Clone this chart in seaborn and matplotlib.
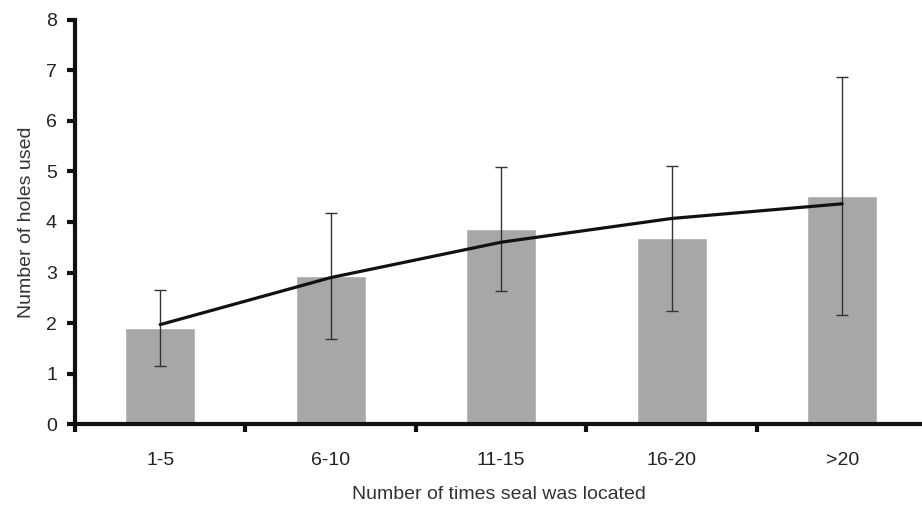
import matplotlib
matplotlib.use("Agg")
import matplotlib.pyplot as plt
import numpy as np
import pandas as pd
import seaborn as sns

# values
groups = ["1-5", "6-10", "11-15", "16-20", ">20"]
mean_holes = [1.91, 2.93, 3.87, 3.68, 4.52]
err_low = [1.16, 1.68, 2.63, 2.24, 2.16]
err_high = [2.65, 4.18, 5.09, 5.11, 6.86]
trend = [1.97, 2.90, 3.60, 4.07, 4.36]

df = pd.DataFrame({"group": groups, "holes": mean_holes})

sns.set_style("white")
plt.rcParams["font.family"] = ["Liberation Sans", "DejaVu Sans"]

fig = plt.figure(figsize=(9.22, 5.08), dpi=100)
ax = fig.add_axes([0.0813, 0.165, 0.919, 0.796])

sns.barplot(data=df, x="group", y="holes", color="#a5a7a9", saturation=1,
            width=0.41, errorbar=None, ax=ax)

x = np.arange(len(groups))
mean = np.array(mean_holes)
yerr = [mean - np.array(err_low), np.array(err_high) - mean]
ax.errorbar(x, mean, yerr=yerr, fmt="none", ecolor="#333333",
            elinewidth=1.0, capsize=4, capthick=1.0, zorder=3)

sns.lineplot(x=x, y=trend, color="#111111", linewidth=2.3, ax=ax, zorder=4)

ax.set_xlim(-0.5, 4.47)
ax.set_ylim(0, 8)
ax.set_yticks(range(0, 9))
ax.set_xticks(x)
ax.set_xticklabels(groups)
ax.set_xticks(np.arange(-0.5, 4.0, 1.0), minor=True)

for side in ["top", "right"]:
    ax.spines[side].set_visible(False)
for side in ["left", "bottom"]:
    ax.spines[side].set_linewidth(3.0)
    ax.spines[side].set_color("#111111")

ax.tick_params(axis="y", which="major", left=True, direction="out", length=6,
               width=3, color="#111111", labelsize=14, pad=7)
ax.tick_params(axis="x", which="major", bottom=False, length=0, labelsize=14,
               pad=20)
ax.tick_params(axis="x", which="minor", bottom=True, direction="out", length=6,
               width=3, color="#111111")

ax.set_xlabel("Number of times seal was located", fontsize=14, labelpad=12,
              color="#333333")
ax.set_ylabel("Number of holes used", fontsize=14, labelpad=8, color="#333333")
for lab in ax.get_xticklabels() + ax.get_yticklabels():
    lab.set_color("#222222")

fig.savefig("out.png", dpi=100)
